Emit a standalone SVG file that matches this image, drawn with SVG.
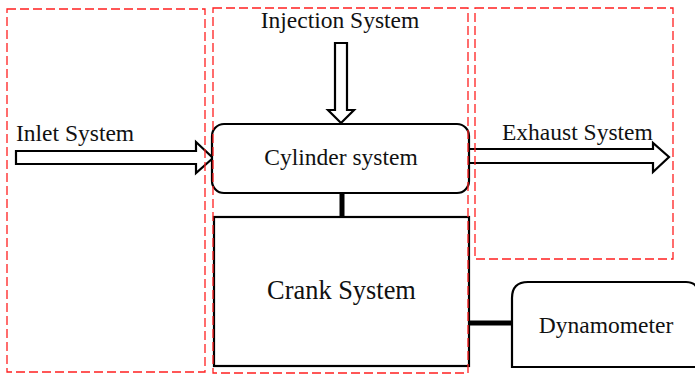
<svg xmlns="http://www.w3.org/2000/svg" width="695" height="374" viewBox="0 0 695 374">
<style>
.zone{fill:none;stroke:#ff1f1f;stroke-width:1.3;stroke-dasharray:9 4}
.box{fill:#fff;stroke:#000;stroke-width:2.2}
.arrow{fill:#fff;stroke:#000;stroke-width:2.2;stroke-linejoin:miter}
.link{stroke:#000;stroke-width:5}
text{font-family:"Liberation Serif","Times New Roman",serif;fill:#111;font-size:23.5px}
</style>
<rect width="695" height="374" fill="#fff"/>
<g id="connectors">
<line class="link" x1="342" y1="193" x2="342" y2="217"/>
<line class="link" x1="469" y1="323" x2="512" y2="323"/>
</g>
<g id="inlet">
<polygon class="arrow" points="16,151 196,151 196,142 213,158 196,173 196,164 16,164"/>
<text x="16" y="141">Inlet System</text>
</g>
<g id="injection">
<polygon class="arrow" points="335,43 347,43 347,110 354,110 341,123 328,110 335,110"/>
<text x="340" y="27.5" text-anchor="middle">Injection System</text>
</g>
<g id="exhaust">
<polygon class="arrow" points="466,149 653,149 653,143 669,157 653,172 653,163 466,163"/>
<text x="502" y="140">Exhaust System</text>
</g>
<g id="cylinder">
<rect class="box" x="212" y="124" width="257" height="69" rx="12" ry="12"/>
<text x="341" y="165" text-anchor="middle">Cylinder system</text>
</g>
<g id="crank">
<rect class="box" x="214" y="217" width="255" height="149" stroke-width="2.5"/>
<text x="341.5" y="299" text-anchor="middle" style="font-size:26.4px">Crank System</text>
</g>
<g id="dynamometer">
<path class="box" d="M512,367 V298 Q512,282 528,282 H686 Q698,282 698,294 V367 Z"/>
<text x="606" y="333" text-anchor="middle">Dynamometer</text>
</g>
<g id="zones">
<rect class="zone" x="7" y="9" width="198" height="363"/>
<rect class="zone" x="213" y="8" width="255" height="365"/>
<rect class="zone" x="475" y="8" width="198" height="251"/>
</g>
</svg>
